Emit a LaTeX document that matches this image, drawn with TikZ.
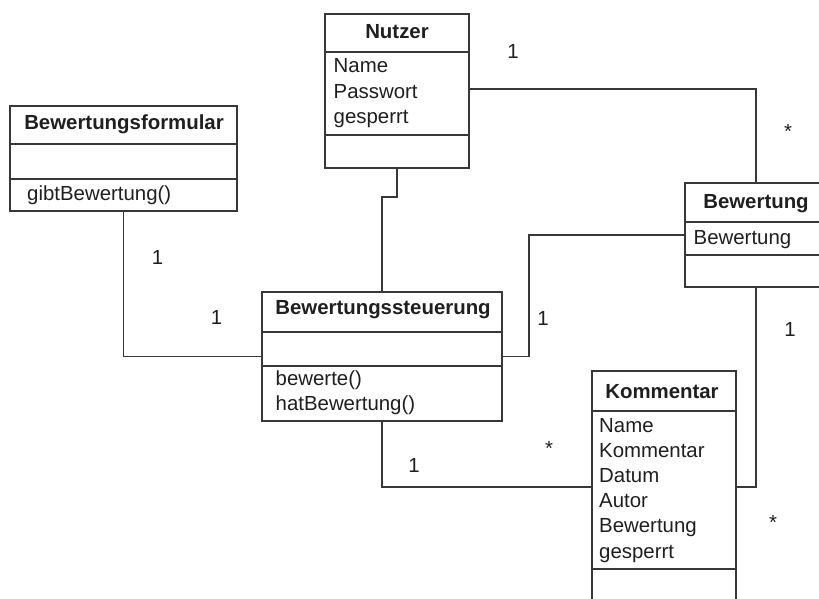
\documentclass[tikz,border=0pt]{standalone}
\usepackage{fontspec}
\setmainfont{Liberation Sans}
\usetikzlibrary{calc}
\definecolor{linegray}{gray}{0.22}
\definecolor{textgray}{gray}{0.12}
\begin{document}
\begin{tikzpicture}[x=1pt, y=-1pt,
  umlbox/.style={draw=linegray, line width=1.6pt, fill=white, rectangle,
                 inner sep=0pt, outer sep=0pt, anchor=north west},
  divider/.style={draw=linegray, line width=1.6pt},
  conn/.style={draw=linegray, line width=1.6pt},
  title/.style={font=\fontsize{20.4}{24}\selectfont\bfseries, text=textgray,
                anchor=base, inner sep=0pt},
  entry/.style={font=\fontsize{20.4}{24}\selectfont, text=textgray,
                anchor=base west, inner sep=0pt},
  mult/.style={font=\fontsize{20.4}{24}\selectfont, text=textgray,
               anchor=base, inner sep=0pt}]
\useasboundingbox (0,0) rectangle (819,599);
\clip (0,0) rectangle (819,599);

% class boxes
\node[umlbox, minimum width=144pt, minimum height=154pt] (nutzer) at (325,14) {};
\node[umlbox, minimum width=227pt, minimum height=105pt] (formular) at (10,106) {};
\node[umlbox, minimum width=240pt, minimum height=129pt] (steuer) at (262,292) {};
\node[umlbox, minimum width=142pt, minimum height=104pt] (bewertung) at (685,183) {};
\node[umlbox, minimum width=144pt, minimum height=232pt] (kommentar) at (592,371) {};

% compartment dividers
\draw[divider] (nutzer.west |- 0,52) -- (nutzer.east |- 0,52);
\draw[divider] (nutzer.west |- 0,135) -- (nutzer.east |- 0,135);
\draw[divider] (formular.west |- 0,144) -- (formular.east |- 0,144);
\draw[divider] (formular.west |- 0,179) -- (formular.east |- 0,179);
\draw[divider] (steuer.west |- 0,332) -- (steuer.east |- 0,332);
\draw[divider] (steuer.west |- 0,366) -- (steuer.east |- 0,366);
\draw[divider] (bewertung.west |- 0,222) -- (bewertung.east |- 0,222);
\draw[divider] (bewertung.west |- 0,255) -- (bewertung.east |- 0,255);
\draw[divider] (kommentar.west |- 0,411) -- (kommentar.east |- 0,411);
\draw[divider] (kommentar.west |- 0,569) -- (kommentar.east |- 0,569);

% class names
\node[title] (tNutzer) at (397,38.5) {Nutzer};
\node[title] (tFormular) at (124,129.5) {Bewertungsformular};
\node[title] (tSteuer) at (383,314.5) {Bewertungssteuerung};
\node[title] (tBewertung) at (756,208) {Bewertung};
\node[title] (tKommentar) at (662,398) {Kommentar};

% attributes and operations
\node[entry] (nA1) at (333.5,73) {Name};
\node[entry] (nA2) at (333.5,98.2) {Passwort};
\node[entry] (nA3) at (333.5,123.4) {gesperrt};
\node[entry] (fM1) at (27,200) {gibtBewertung()};
\node[entry] (sM1) at (275.5,385) {bewerte()};
\node[entry] (sM2) at (275.5,410) {hatBewertung()};
\node[entry] (bA1) at (693.5,244) {Bewertung};
\node[entry] (kA1) at (599,432) {Name};
\node[entry] (kA2) at (599,457.2) {Kommentar};
\node[entry] (kA3) at (599,482.4) {Datum};
\node[entry] (kA4) at (599,507.6) {Autor};
\node[entry] (kA5) at (599,532.8) {Bewertung};
\node[entry] (kA6) at (599,558) {gesperrt};

% associations
\draw[conn] (nutzer.east |- 0,89) -| (bewertung.north);
\draw[conn] (nutzer.south) -- ++(0,29) -| (steuer.north);
\draw[conn] (steuer.east) -- ++(27,0) |- (bewertung.west);
\draw[conn] (formular.south) |- (steuer.west);
\draw[conn] (steuer.south) |- (kommentar.west);
\draw[conn] (bewertung.south) |- (kommentar.east);

% multiplicities
\node[mult] (m1) at (513,59) {1};
\node[mult] (m2) at (788,139) {*};
\node[mult] (m3) at (157.5,264) {1};
\node[mult] (m4) at (216.5,324.3) {1};
\node[mult] (m5) at (543,325.5) {1};
\node[mult] (m6) at (414,472.3) {1};
\node[mult] (m7) at (549,455) {*};
\node[mult] (m8) at (790,336.3) {1};
\node[mult] (m9) at (773,529) {*};
\end{tikzpicture}
\end{document}
